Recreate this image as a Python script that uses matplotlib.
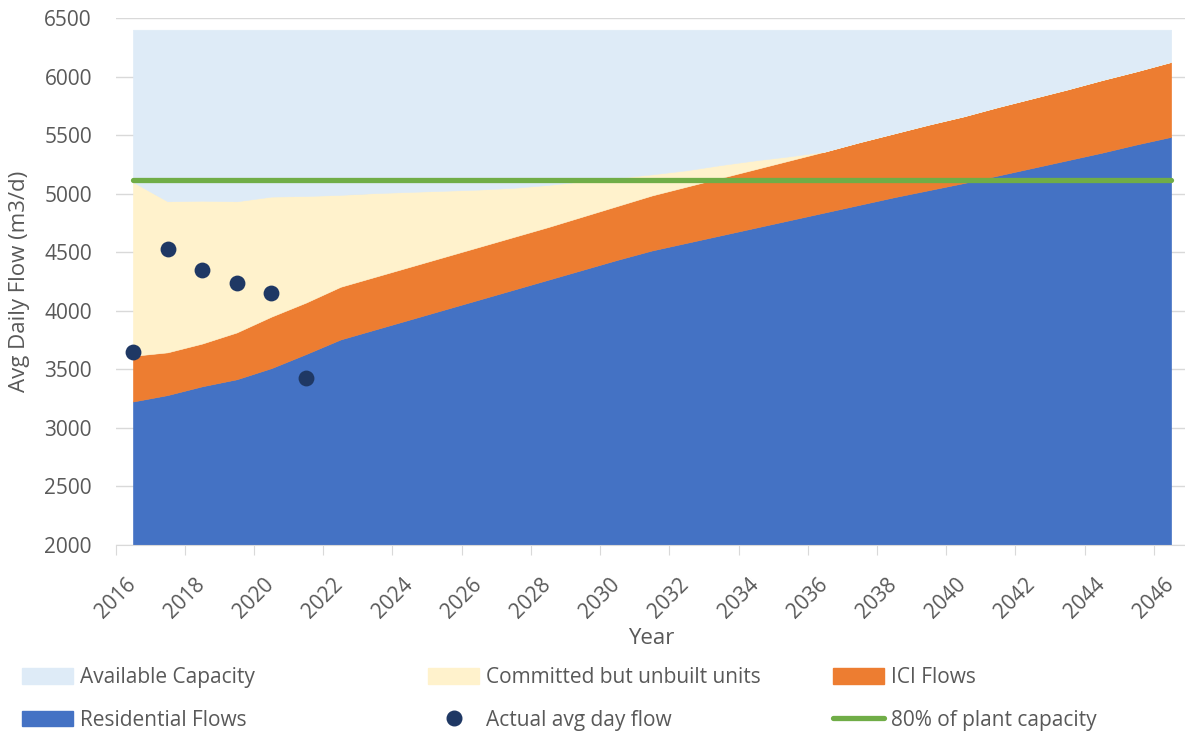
import matplotlib.pyplot as plt
from matplotlib.patches import Patch
from matplotlib.lines import Line2D

plt.rcParams['font.family'] = ['Open Sans', 'DejaVu Sans']

# mid-year points, 2016.5 .. 2046.5
years = [2016.5 + i for i in range(31)]

residential = [3225, 3280, 3355, 3415, 3510, 3630, 3755, 3840, 3925, 4010,
               4095, 4180, 4265, 4350, 4435, 4515, 4580, 4645, 4710, 4775,
               4840, 4905, 4970, 5030, 5090, 5155, 5220, 5285, 5350, 5420,
               5485]
ici = [390, 365, 365, 400, 440, 440, 450, 450, 450, 450,
       450, 450, 450, 455, 460, 470, 480, 490, 500, 510,
       520, 535, 545, 560, 570, 585, 595, 605, 620, 625,
       640]
committed = [1485, 1290, 1220, 1120, 1025, 910, 785, 715, 640, 565,
             490, 420, 360, 300, 240, 180, 140, 110, 75, 35,
             0, 0, 0, 0, 0, 0, 0, 0, 0, 0,
             0]
available = [1300, 1465, 1460, 1465, 1425, 1420, 1410, 1395, 1385, 1375,
             1365, 1350, 1325, 1295, 1265, 1235, 1200, 1155, 1115, 1080,
             1040, 960, 885, 810, 740, 660, 585, 510, 430, 355,
             275]

actual_years = [2016.5, 2017.5, 2018.5, 2019.5, 2020.5, 2021.5]
actual_flow = [3645, 4530, 4345, 4235, 4150, 3430]

plant_80 = 5120

c_avail = '#DEEBF7'
c_comm = '#FFF2CC'
c_ici = '#ED7D31'
c_res = '#4472C4'
c_dot = '#1F3864'
c_green = '#70AD47'
grey_txt = '#595959'

fig = plt.figure(figsize=(11.85, 7.31), dpi=100)
ax = fig.add_axes([115.6 / 1185, 1 - 545 / 731, 1 - 115.6 / 1185, (545 - 18) / 731])

ax.stackplot(years, residential, ici, committed, available,
             colors=[c_res, c_ici, c_comm, c_avail], edgecolor='face', linewidth=0.4)
ax.plot([years[0], years[-1]], [plant_80, plant_80], color=c_green, lw=3.8,
        solid_capstyle='round', zorder=3)
ax.scatter(actual_years, actual_flow, s=130, color=c_dot, zorder=4, linewidths=0)

ax.set_xlim(2016, 2046.9)
ax.set_ylim(2000, 6500)
ax.set_yticks(range(2000, 6501, 500))
ax.set_xticks(range(2016, 2047, 2))
ax.set_axisbelow(True)
ax.yaxis.grid(True, color='#D9D9D9', lw=1)

for s in ['top', 'right', 'left']:
    ax.spines[s].set_visible(False)
ax.spines['bottom'].set_color('#D9D9D9')
ax.spines['bottom'].set_zorder(5)
ax.tick_params(axis='y', length=0, pad=17, labelsize=15, labelcolor=grey_txt)
ax.tick_params(axis='x', length=7, color='#D9D9D9', pad=14, labelsize=15,
               labelcolor=grey_txt, labelrotation=45)

ax.set_ylabel('Avg Daily Flow (m3/d)', fontsize=16, color=grey_txt)
ax.yaxis.set_label_coords(-0.0894, 0.5)
ax.yaxis.label.set_va('center')
ax.set_xlabel('Year', fontsize=16, color=grey_txt)
ax.xaxis.set_label_coords(0.5006, -0.1765)
ax.xaxis.label.set_va('center')

col1 = [Patch(color=c_avail, label='Available Capacity'),
        Patch(color=c_res, label='Residential Flows')]
col2 = [Patch(color=c_comm, label='Committed but unbuilt units'),
        Line2D([], [], ls='none', marker='o', markersize=10.5, color=c_dot,
               label='Actual avg day flow')]
col3 = [Patch(color=c_ici, label='ICI Flows'),
        Line2D([], [], color=c_green, lw=3.8, solid_capstyle='round',
               label='80% of plant capacity')]

for handles, x0 in [(col1, 22), (col2, 428), (col3, 833)]:
    leg = fig.legend(handles=handles, loc='center left',
                     bbox_to_anchor=(x0 / 1185, 1 - 699 / 731),
                     frameon=False, fontsize=15, borderpad=0, borderaxespad=0,
                     handlelength=2.45, handleheight=0.77, handletextpad=0.35,
                     labelspacing=1.05, labelcolor=grey_txt)

fig.savefig('out.png', dpi=100)
